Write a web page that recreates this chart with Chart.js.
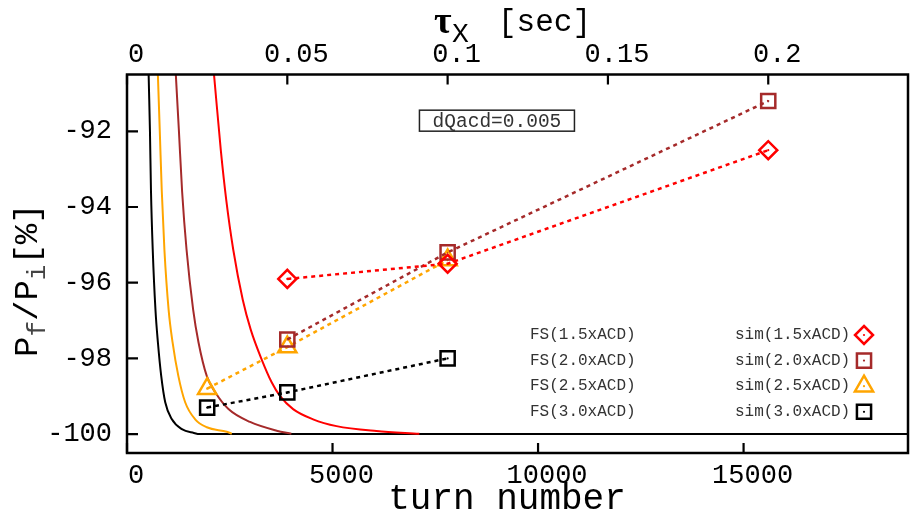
<!DOCTYPE html>
<html>
<head>
<meta charset="utf-8">
<script src="https://cdn.jsdelivr.net/npm/chart.js@4.4.1/dist/chart.umd.min.js"></script>
<style>
  html, body { margin: 0; padding: 0; background: #fff; }
  #wrap { width: 914px; height: 523px; }
</style>
</head>
<body>
<div id="wrap"><canvas id="grafico" width="914" height="523"></canvas></div>
<script>
// seconds per turn, used for the tau axis on top
const turnTime = 0.2 / 15600;
const turnMax = 19000;

const turnTicks = [0, 5000, 10000, 15000];
const tauTicks = [0, 0.05, 0.1, 0.15, 0.2];
const tauTickLabels = ["0", "0.05", "0.1", "0.15", "0.2"];
const ratioTicks = [-100, -98, -96, -94, -92];

// FS curves (turn number, Pf/Pi in %)
const fs15Turn = [2073, 2119, 2282, 2415, 2585, 2816, 3010, 3277, 3519, 3726, 4041, 4527, 5097, 6068, 7112];
const fs15Ratio = [-90.0, -90.53, -92.5, -93.82, -95.13, -96.45, -97.24, -98.03, -98.63, -99.0, -99.34, -99.61, -99.79, -99.92, -99.99];

const fs20Turn = [1165, 1189, 1262, 1342, 1449, 1609, 1740, 1942, 2143, 2468, 2993, 3641, 3998];
const fs20Ratio = [-90.0, -90.53, -91.97, -93.61, -95.13, -96.71, -97.58, -98.47, -98.89, -99.34, -99.68, -99.91, -99.99];

const fs25Turn = [735, 752, 801, 845, 910, 1012, 1109, 1250, 1415, 1658, 1942, 2427, 2549];
const fs25Ratio = [-90.0, -90.53, -92.11, -93.55, -95.13, -96.71, -97.58, -98.47, -99.16, -99.61, -99.82, -99.94, -99.99];

const fs30Turn = [517, 527, 558, 583, 626, 692, 752, 833, 930, 1092, 1335, 1626, 1772, 2500, 19000];
const fs30Ratio = [-90.0, -90.53, -91.97, -93.55, -95.13, -96.71, -97.58, -98.47, -99.16, -99.61, -99.87, -99.97, -100, -100, -100];

// simulation points
const sim15Turn = [3900, 7800, 15600];
const sim15Ratio = [-95.9, -95.5, -92.5];
const sim20Turn = [3900, 7800, 15600];
const sim20Ratio = [-97.5, -95.2, -91.2];
const sim25Turn = [1950, 3900, 7800];
const sim25Ratio = [-98.8, -97.7, -95.4];
const sim30Turn = [1950, 3900, 7800];
const sim30Ratio = [-99.3, -98.9, -98.0];

const fsNames = ["FS(1.5xACD)", "FS(2.0xACD)", "FS(2.5xACD)", "FS(3.0xACD)"];
const simNames = ["sim(1.5xACD)", "sim(2.0xACD)", "sim(2.5xACD)", "sim(3.0xACD)"];
const cores = ["#ff0000", "#a52a2a", "#ffa500", "#000000"];
const marcadores = ["rectRot", "rect", "triangle", "rect"];
const raios = [9, 10, 10.5, 10];
const boxText = "dQacd=0.005";

const MONO = "'Liberation Mono', 'Courier New', monospace";
Chart.defaults.font.family = MONO;
Chart.defaults.color = "#000";

function pares(turns, ratios) {
  return turns.map((t, i) => ({ x: t, y: ratios[i] }));
}

function simSet(turns, ratios, k) {
  return {
    data: pares(turns, ratios),
    borderColor: cores[k],
    borderWidth: 2.5,
    borderDash: [4, 4],
    pointStyle: marcadores[k],
    pointRadius: raios[k],
    pointBorderWidth: 2.5,
    pointBorderColor: cores[k],
    pointBackgroundColor: "rgba(0,0,0,0)",
    fill: false,
  };
}

function dotSet(turns, ratios, k) {
  return {
    data: pares(turns, ratios),
    showLine: false,
    pointStyle: "circle",
    pointRadius: 1.1,
    pointBorderWidth: 0,
    pointBackgroundColor: cores[k],
  };
}

function fsSet(turns, ratios, k) {
  return {
    data: pares(turns, ratios),
    borderColor: cores[k],
    borderWidth: 2,
    pointRadius: 0,
    cubicInterpolationMode: "monotone",
    fill: false,
  };
}

function marcador(ctx, style, x, y, r) {
  ctx.beginPath();
  if (style === "rectRot") {
    ctx.moveTo(x, y - r); ctx.lineTo(x + r, y); ctx.lineTo(x, y + r); ctx.lineTo(x - r, y);
  } else if (style === "rect") {
    const s = r * Math.SQRT1_2;
    ctx.rect(x - s, y - s, 2 * s, 2 * s);
  } else {
    ctx.moveTo(x, y - r);
    ctx.lineTo(x + r * Math.sin(2 * Math.PI / 3), y - r * Math.cos(2 * Math.PI / 3));
    ctx.lineTo(x + r * Math.sin(4 * Math.PI / 3), y - r * Math.cos(4 * Math.PI / 3));
  }
  ctx.closePath();
  ctx.stroke();
  ctx.beginPath();
  ctx.arc(x, y, 1.1, 0, Math.PI * 2);
  ctx.fill();
}

// keep the plot box fixed: no extra room for edge labels
function semPadding(s) {
  s.paddingLeft = 0; s.paddingRight = 0; s.paddingTop = 0; s.paddingBottom = 0;
}

const moldura = {
  id: "moldura",
  afterDraw(chart) {
    const { ctx, chartArea: a, scales } = chart;
    ctx.save();

    // frame and inward ticks
    ctx.strokeStyle = "#000";
    ctx.lineWidth = 2.5;
    ctx.strokeRect(a.left, a.top, a.right - a.left, a.bottom - a.top);
    ctx.lineWidth = 2.2;
    ctx.beginPath();
    ratioTicks.forEach((v) => {
      const y = scales.y.getPixelForValue(v);
      ctx.moveTo(a.left, y); ctx.lineTo(a.left + 11, y);
    });
    turnTicks.forEach((v) => {
      const x = scales.x.getPixelForValue(v);
      ctx.moveTo(x, a.bottom); ctx.lineTo(x, a.bottom - 10);
    });
    tauTicks.forEach((v) => {
      const x = scales.x2.getPixelForValue(v);
      ctx.moveTo(x, a.top); ctx.lineTo(x, a.top + 10);
    });
    ctx.stroke();

    // axis titles
    ctx.fillStyle = "#000";
    ctx.textBaseline = "alphabetic";
    ctx.font = "36px " + MONO;
    ctx.textAlign = "center";
    ctx.fillText("turn number", 507, 509);

    ctx.textAlign = "left";
    ctx.font = "bold 38px 'Liberation Serif', serif";
    ctx.fillText("τ", 434, 33);
    ctx.font = "28px " + MONO;
    ctx.fillText("X", 452, 42);
    ctx.font = "31px " + MONO;
    ctx.fillText("[sec]", 498, 31);

    // Pf/Pi[%] written bottom to top
    ctx.save();
    ctx.translate(37, 357);
    ctx.rotate(-Math.PI / 2);
    const partes = [["P", 34, 0], ["f", 26, 8], ["/", 34, 0], ["P", 34, 0], ["i", 26, 8], ["[%]", 34, 0]];
    let px = 0;
    partes.forEach(([t, size, dy]) => {
      ctx.font = size + "px " + MONO;
      ctx.fillStyle = dy ? "#444" : "#000";
      ctx.fillText(t, px, dy);
      px += ctx.measureText(t).width;
    });
    ctx.restore();

    // parameter box
    const bx = scales.x.getPixelForValue(9000);
    const by = scales.y.getPixelForValue(-91.72);
    ctx.lineWidth = 1.5;
    ctx.strokeStyle = "#222";
    ctx.strokeRect(bx - 77.5, by - 10.5, 155, 21);
    ctx.font = "19.5px " + MONO;
    ctx.fillStyle = "#333";
    ctx.textAlign = "center";
    ctx.textBaseline = "middle";
    ctx.fillText(boxText, bx, by + 1);

    // key
    ctx.font = "16px " + MONO;
    ctx.textAlign = "left";
    for (let k = 0; k < 4; k++) {
      const y = a.bottom - 118 + k * 25.6;
      ctx.fillStyle = "#333";
      ctx.fillText(fsNames[k], a.right - 378, y);
      ctx.fillText(simNames[k], a.right - 173, y);
      ctx.strokeStyle = cores[k];
      ctx.fillStyle = cores[k];
      ctx.lineWidth = 2.5;
      marcador(ctx, marcadores[k], a.right - 44, y, raios[k]);
    }
    ctx.restore();
  },
};

new Chart(document.getElementById("grafico"), {
  type: "line",
  data: {
    datasets: [
      simSet(sim15Turn, sim15Ratio, 0),
      simSet(sim20Turn, sim20Ratio, 1),
      simSet(sim25Turn, sim25Ratio, 2),
      simSet(sim30Turn, sim30Ratio, 3),
      dotSet(sim15Turn, sim15Ratio, 0),
      dotSet(sim20Turn, sim20Ratio, 1),
      dotSet(sim25Turn, sim25Ratio, 2),
      dotSet(sim30Turn, sim30Ratio, 3),
      fsSet(fs15Turn, fs15Ratio, 0),
      fsSet(fs20Turn, fs20Ratio, 1),
      fsSet(fs25Turn, fs25Ratio, 2),
      fsSet(fs30Turn, fs30Ratio, 3),
    ],
  },
  options: {
    responsive: false,
    animation: false,
    devicePixelRatio: 1,
    layout: { autoPadding: false, padding: { left: 0, right: 6, top: 0, bottom: 0 } },
    plugins: { legend: { display: false }, tooltip: { enabled: false } },
    scales: {
      x: {
        type: "linear",
        position: "bottom",
        min: 0,
        max: turnMax,
        afterBuildTicks: (s) => { s.ticks = turnTicks.map((v) => ({ value: v })); },
        afterFit: (s) => { s.height = 70; semPadding(s); },
        grid: { display: false, drawTicks: false },
        border: { display: false },
        ticks: { font: { size: 27 }, color: "#000", padding: 7, labelOffset: 9, maxRotation: 0, autoSkip: false, callback: (v) => String(v) },
      },
      x2: {
        type: "linear",
        position: "top",
        min: 0,
        max: turnMax * turnTime,
        afterBuildTicks: (s) => { s.ticks = tauTicks.map((v) => ({ value: v })); },
        afterFit: (s) => { s.height = 74.5; semPadding(s); },
        grid: { display: false, drawTicks: false },
        border: { display: false },
        ticks: { font: { size: 27 }, color: "#000", padding: 3, labelOffset: 9, maxRotation: 0, autoSkip: false, callback: (v, i) => tauTickLabels[i] },
      },
      y: {
        type: "linear",
        min: -100.5,
        max: -90.5,
        afterBuildTicks: (s) => { s.ticks = ratioTicks.map((v) => ({ value: v })); },
        afterFit: (s) => { s.width = 127; semPadding(s); },
        grid: { display: false, drawTicks: false },
        border: { display: false },
        ticks: { font: { size: 27 }, color: "#000", padding: 15, callback: (v) => String(v) },
      },
    },
  },
  plugins: [moldura],
});
</script>
</body>
</html>
